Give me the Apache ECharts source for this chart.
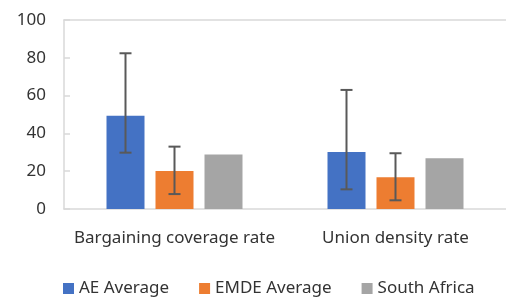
<!DOCTYPE html>
<html>
<head>
<meta charset="utf-8">
<script src="https://cdn.jsdelivr.net/npm/echarts@6/dist/echarts.min.js"></script>
<style>
  html, body { margin: 0; padding: 0; background: #fff; }
  #main { width: 506px; height: 297px; }
</style>
</head>
<body>
<div id="main"></div>
<script>
// data
const categories = ['Bargaining coverage rate', 'Union density rate'];
const seriesNames = ['AE Average', 'EMDE Average', 'South Africa'];
const aeValues = [49.4, 30.2];
const emdeValues = [20.1, 16.8];
const saValues = [28.9, 26.8];
// error bar ranges [low, high]
const aeLow = [29.8, 10.4];
const aeHigh = [82.4, 63];
const emdeLow = [7.9, 4.6];
const emdeHigh = [33, 29.5];
const yTicks = [0, 20, 40, 60, 80, 100];

const colors = ['#4472C4', '#ED7D31', '#A5A5A5'];
const barW = 38;
const barGapPx = 11;
const fontFam = '"Noto Sans", "Open Sans", sans-serif';
const textColor = '#333333';
const lineColor = '#d9d9d9';

const chart = echarts.init(document.getElementById('main'));

// build error bar data: [catIndex, low, high]
function errData(low, high) {
  var out = [];
  for (var i = 0; i < categories.length; i++) {
    out.push([i, low[i], high[i]]);
  }
  return out;
}

function errRenderer(slot) {
  return function (params, api) {
    var off = (slot - 1) * (barW + barGapPx);
    var lo = api.coord([api.value(0), api.value(1)]);
    var hi = api.coord([api.value(0), api.value(2)]);
    var x = lo[0] + off;
    var cap = 6;
    var style = { stroke: '#595959', lineWidth: 2 };
    return {
      type: 'group',
      children: [
        { type: 'line', shape: { x1: x, y1: hi[1], x2: x, y2: lo[1] }, style: style },
        { type: 'line', shape: { x1: x - cap, y1: hi[1], x2: x + cap, y2: hi[1] }, style: style },
        { type: 'line', shape: { x1: x - cap, y1: lo[1], x2: x + cap, y2: lo[1] }, style: style }
      ]
    };
  };
}

var option = {
  animation: false,
  backgroundColor: '#fff',
  color: colors,
  textStyle: { fontFamily: fontFam },
  grid: { left: 64, right: 0, top: 20, bottom: 88 },
  legend: {
    data: seriesNames,
    top: 275,
    left: 58,
    itemWidth: 11,
    itemHeight: 11,
    itemGap: 30,
    icon: 'rect',
    textStyle: { fontSize: 17, color: textColor, fontFamily: fontFam }
  },
  xAxis: [{
    type: 'category',
    data: categories,
    axisLine: { lineStyle: { color: lineColor, width: 1.5 } },
    axisTick: { show: false },
    axisLabel: { interval: 0, fontSize: 17, color: textColor, margin: 21, fontFamily: fontFam }
  }, {
    type: 'category',
    data: categories,
    position: 'top',
    axisLine: { onZero: false, lineStyle: { color: lineColor, width: 1.5 } },
    axisTick: { show: false },
    axisLabel: { show: false }
  }],
  yAxis: {
    type: 'value',
    min: yTicks[0],
    max: yTicks[yTicks.length - 1],
    interval: 20,
    axisLine: { show: true, lineStyle: { color: lineColor, width: 1.5 } },
    axisTick: { show: true, inside: true, length: 6, lineStyle: { color: lineColor, width: 1.5 } },
    splitLine: { show: false },
    axisLabel: { fontSize: 17, color: textColor, margin: 18, fontFamily: fontFam }
  },
  series: [
    { name: seriesNames[0], type: 'bar', data: aeValues, barWidth: barW, barGap: (barGapPx / barW * 100) + '%' },
    { name: seriesNames[1], type: 'bar', data: emdeValues, barWidth: barW, barGap: (barGapPx / barW * 100) + '%' },
    { name: seriesNames[2], type: 'bar', data: saValues, barWidth: barW, barGap: (barGapPx / barW * 100) + '%' },
    { type: 'custom', renderItem: errRenderer(0), data: errData(aeLow, aeHigh), z: 10 },
    { type: 'custom', renderItem: errRenderer(1), data: errData(emdeLow, emdeHigh), z: 10 }
  ]
};

chart.setOption(option);
</script>
</body>
</html>
